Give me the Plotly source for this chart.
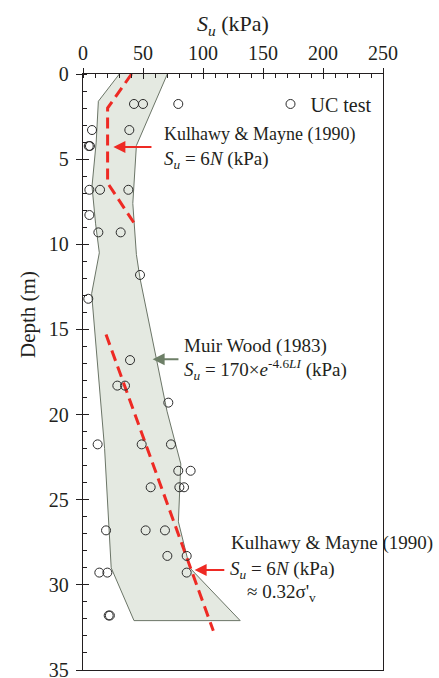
import plotly.graph_objects as go

# UC test results: undrained shear strength Su (kPa) against depth (m)
uc_su = [42.5, 50.0, 79.4, 7.5, 38.6, 4.8, 5.8, 5.3, 14.2, 37.8, 5.3, 12.8, 31.4,
         47.5, 4.4, 39.2, 28.6, 35.0, 71.1, 12.2, 48.9, 73.3, 79.4, 89.7, 56.4,
         80.3, 84.2, 19.2, 52.2, 68.3, 70.3, 86.4, 13.6, 20.3, 86.4, 21.4, 22.4]
uc_depth = [1.76, 1.76, 1.76, 3.29, 3.29, 4.23, 4.23, 6.8, 6.8, 6.8, 8.28, 9.3, 9.3,
            11.8, 13.2, 16.8, 18.3, 18.3, 19.3, 21.75, 21.75, 21.75, 23.3, 23.3, 24.27,
            24.27, 24.27, 26.8, 26.8, 26.8, 28.3, 28.3, 29.28, 29.28, 29.28, 31.8, 31.8]

# Muir Wood (1983) envelope, Su = 170 exp(-4.6 LI): right edge downwards, left edge upwards
band_su = [70.3, 44.5, 41.5, 44.5, 47.5, 70.0, 81.5, 79.5, 89.0, 131.0,
           42.5, 23.5, 18.0, 7.2, 13.6, 10.5, 7.5, 11.0, 12.8, 30.3]
band_depth = [0.0, 4.2, 7.6, 10.6, 12.0, 19.8, 22.9, 26.3, 29.0, 32.1,
              32.1, 29.0, 22.0, 12.9, 10.5, 8.8, 6.6, 4.0, 1.6, 0.0]

# Kulhawy & Mayne (1990), Su = 6N: upper profile and lower trend
km_upper_su = [40.5, 20.5, 20.5, 43.0]
km_upper_depth = [0.0, 2.0, 6.4, 8.8]
km_lower_su = [19.2, 108.6]
km_lower_depth = [15.3, 32.7]

x_ticks = [0, 50, 100, 150, 200, 250]
y_ticks = [0, 5, 10, 15, 20, 25, 30, 35]

SERIF = "Liberation Serif"
INK = "#231f20"
RED = "#ee2a24"
GREEN_ARROW = "#6d7f67"

fig = go.Figure()

fig.add_trace(go.Scatter(
    x=band_su, y=band_depth, mode="lines", fill="toself",
    fillcolor="#e4e9e1", line=dict(color="#6b7567", width=1),
    showlegend=False, hoverinfo="skip"))

fig.add_trace(go.Scatter(
    x=km_upper_su, y=km_upper_depth, mode="lines",
    line=dict(color=RED, width=3, dash="11px,6px"),
    showlegend=False))
fig.add_trace(go.Scatter(
    x=km_lower_su, y=km_lower_depth, mode="lines",
    line=dict(color=RED, width=3, dash="11px,6px"),
    showlegend=False))

fig.add_trace(go.Scatter(
    x=uc_su, y=uc_depth, mode="markers", name="UC test",
    marker=dict(symbol="circle-open", size=9, color="#2b2b2b", line=dict(width=1))))

# helper axes carrying the inner half of the major ticks
fig.add_trace(go.Scatter(x=[None], y=[None], xaxis="x2", yaxis="y2",
                         showlegend=False, hoverinfo="skip"))

axis_font = dict(family=SERIF, size=20, color=INK)

fig.update_layout(
    width=439, height=678,
    margin=dict(l=83, r=56, t=74, b=8, autoexpand=False),
    paper_bgcolor="white", plot_bgcolor="white",
    font=dict(family=SERIF, color=INK),
    xaxis=dict(
        side="top", range=[0, 250], tickvals=x_ticks, showgrid=False, zeroline=False,
        showline=True, linecolor=INK, linewidth=1.3, mirror=True, automargin=False,
        ticks="outside", ticklen=5, tickcolor=INK, tickwidth=1.3,
        tickfont=axis_font, ticklabelstandoff=0,
        minor=dict(dtick=10, ticks="inside", ticklen=4, tickcolor=INK, tickwidth=1),
    ),
    yaxis=dict(
        range=[35, 0], tickvals=y_ticks, showgrid=False, zeroline=False,
        showline=True, linecolor=INK, linewidth=1.3, mirror=True, automargin=False,
        ticks="outside", ticklen=6, tickcolor=INK, tickwidth=1.3,
        tickfont=axis_font, ticklabelstandoff=3, ticklabeloverflow="allow",
        minor=dict(dtick=1, ticks="inside", ticklen=4, tickcolor=INK, tickwidth=1),
    ),
    xaxis2=dict(overlaying="x", side="top", range=[0, 250], tickvals=x_ticks,
                ticks="inside", ticklen=5, tickcolor=INK, tickwidth=1.3, automargin=False,
                showticklabels=False, showgrid=False, zeroline=False, showline=False),
    yaxis2=dict(overlaying="y", side="left", range=[35, 0], tickvals=y_ticks,
                ticks="inside", ticklen=6, tickcolor=INK, tickwidth=1.3, automargin=False,
                showticklabels=False, showgrid=False, zeroline=False, showline=False),
    legend=dict(x=0.625, y=0.9497, xanchor="left", yanchor="middle",
                bgcolor="rgba(0,0,0,0)", font=dict(family=SERIF, size=20, color=INK),
                itemwidth=30, tracegroupgap=0),
)

txt18 = dict(family=SERIF, size=18, color=INK)
txt19 = dict(family=SERIF, size=19, color=INK)

annotations = [
    # axis titles
    dict(text="<i>S</i><sub><i>u</i></sub> (kPa)", xref="x", yref="paper", x=125, y=1,
         yshift=49, showarrow=False, font=dict(family=SERIF, size=22, color=INK),
         xanchor="center", yanchor="middle"),
    dict(text="Depth (m)", xref="paper", yref="y", x=0, y=14.15, xshift=-55,
         textangle=-90, showarrow=False,
         font=dict(family=SERIF, size=21, color=INK),
         xanchor="center", yanchor="middle"),
    # upper Kulhawy & Mayne label
    dict(text="Kulhawy &amp; Mayne (1990)", x=65.8, y=3.58, showarrow=False,
         xanchor="left", yanchor="middle", font=txt18),
    dict(text="<i>S<sub>u</sub></i> = 6<i>N</i> (kPa)", x=65.8, y=5.05, showarrow=False,
         xanchor="left", yanchor="middle", font=txt19),
    dict(text="", x=25.3, y=4.29, ax=58.3, ay=4.29, axref="x", ayref="y",
         showarrow=True, arrowhead=2, arrowsize=1.2, arrowwidth=2, arrowcolor=RED),
    # Muir Wood label
    dict(text="Muir Wood (1983)", x=82.6, y=15.95, showarrow=False,
         xanchor="left", yanchor="middle", font=txt19),
    dict(text="<i>S<sub>u</sub></i> = 170×<i>e</i><sup>-4.6<i>LI</i></sup> (kPa)",
         x=82.6, y=17.35, showarrow=False, xanchor="left", yanchor="middle", font=txt19),
    dict(text="", x=58.0, y=16.75, ax=80.8, ay=16.75, axref="x", ayref="y",
         showarrow=True, arrowhead=2, arrowsize=1.2, arrowwidth=2, arrowcolor=GREEN_ARROW),
    # lower Kulhawy & Mayne label
    dict(text="Kulhawy &amp; Mayne (1990)", x=122.0, y=27.55, showarrow=False,
         xanchor="left", yanchor="middle", font=txt19),
    dict(text="<i>S<sub>u</sub></i> = 6<i>N</i> (kPa)", x=121.0, y=29.13, showarrow=False,
         xanchor="left", yanchor="middle", font=txt19),
    dict(text="≈ 0.32σ'<sub>v</sub>", x=135.0, y=30.48, showarrow=False,
         xanchor="left", yanchor="middle", font=txt19),
    dict(text="", x=93.0, y=29.13, ax=119.0, ay=29.13, axref="x", ayref="y",
         showarrow=True, arrowhead=2, arrowsize=1.2, arrowwidth=2, arrowcolor=RED),
]
fig.update_layout(annotations=annotations)

fig.write_html("out.html")
